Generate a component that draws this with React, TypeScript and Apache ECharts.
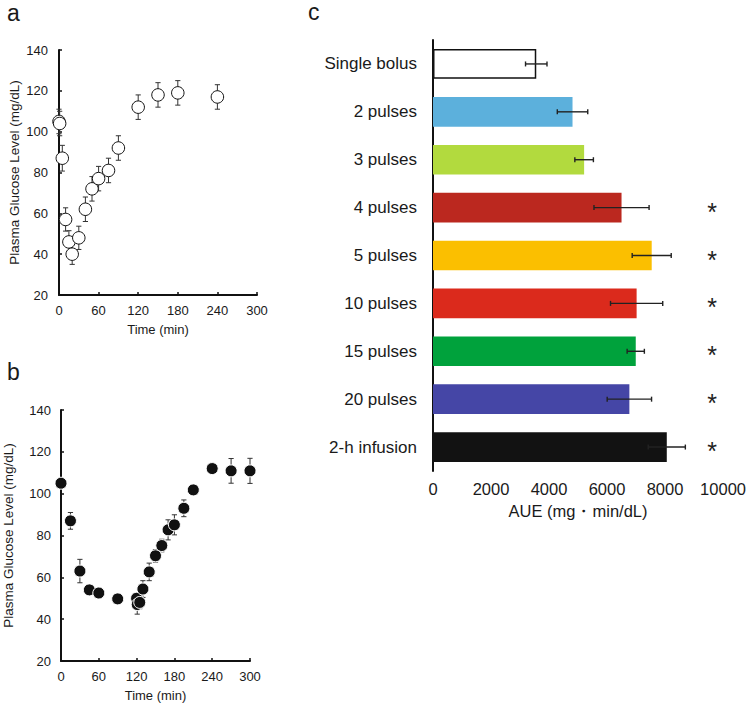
import React, { useEffect, useRef } from "react";
import * as echarts from "echarts";

// Panel a: single bolus (open circles)
const timeA = [0, 1, 5, 10, 15, 20, 30, 40, 50, 60, 75, 90, 120, 150, 180, 240];
const glucoseA = [105, 104, 87, 57, 46, 40, 48, 62, 72, 77, 81, 92, 112, 118, 119, 117];
const errA = [6, 6, 6.3, 5.7, 5.5, 5, 5.7, 6, 6, 6, 6, 6, 6, 6, 6, 6];

// Panel b: 2-h infusion (filled circles)
const timeB = [0, 15, 30, 45, 60, 90, 120, 121, 125, 130, 140, 150, 160, 170, 180, 195, 210, 240, 270, 300];
const glucoseB = [105, 87, 63, 54, 52.5, 49.7, 50, 47, 48, 54.4, 62.6, 70.3, 75.2, 82.7, 85.1, 93, 101.8, 112, 110.9, 110.9];
const errB = [2, 4, 5.6, 2, 2, 2, 2, 4.6, 3, 4, 4.2, 3, 3, 4.8, 4.8, 4, 2, 2, 5.9, 6];

// Panel c: AUE
const categories = [
  "Single bolus",
  "2 pulses",
  "3 pulses",
  "4 pulses",
  "5 pulses",
  "10 pulses",
  "15 pulses",
  "20 pulses",
  "2-h infusion",
];
const aue = [3560, 4810, 5210, 6500, 7540, 7020, 6990, 6770, 8060];
const aueErr = [370, 525, 320, 950, 673, 900, 297, 765, 640];
const significant = [false, false, false, true, true, true, true, true, true];
const barColors = [
  "#ffffff",
  "#5cb0dc",
  "#b2da3e",
  "#bb281f",
  "#fbbf00",
  "#db2a1c",
  "#00a23c",
  "#4546a6",
  "#121212",
];
const asteriskX = 9620;

const FONT = "'Liberation Sans', Arial, sans-serif";
const TXT = "#1a1a1a";

function vErrRender(params: any, api: any) {
  const x = api.value(0);
  const lo = api.value(1);
  const hi = api.value(2);
  const pHi = api.coord([x, hi]);
  const pLo = api.coord([x, lo]);
  const cap = 2.6;
  const style = { stroke: "#333", lineWidth: 1 };
  return {
    type: "group",
    children: [
      { type: "line", shape: { x1: pHi[0], y1: pHi[1], x2: pLo[0], y2: pLo[1] }, style },
      { type: "line", shape: { x1: pHi[0] - cap, y1: pHi[1], x2: pHi[0] + cap, y2: pHi[1] }, style },
      { type: "line", shape: { x1: pLo[0] - cap, y1: pLo[1], x2: pLo[0] + cap, y2: pLo[1] }, style },
    ],
  };
}

function hErrRender(params: any, api: any) {
  const lo = api.value(0);
  const hi = api.value(1);
  const c = api.value(2);
  const pLo = api.coord([lo, c]);
  const pHi = api.coord([hi, c]);
  const cap = 2.5;
  const style = { stroke: "#222", lineWidth: 1.4 };
  return {
    type: "group",
    children: [
      { type: "line", shape: { x1: pLo[0], y1: pLo[1], x2: pHi[0], y2: pHi[1] }, style },
      { type: "line", shape: { x1: pLo[0], y1: pLo[1] - cap, x2: pLo[0], y2: pLo[1] + cap }, style },
      { type: "line", shape: { x1: pHi[0], y1: pHi[1] - cap, x2: pHi[0], y2: pHi[1] + cap }, style },
    ],
  };
}

function starRender(params: any, api: any) {
  const p = api.coord([api.value(0), api.value(1)]);
  return {
    type: "text",
    x: p[0],
    y: p[1] + 4,
    style: {
      text: "*",
      fontSize: 25,
      fontFamily: FONT,
      fill: "#222",
      align: "center",
      verticalAlign: "middle",
    },
  };
}

function timeXAxis(gridIndex: number, labelMargin: number) {
  return {
    gridIndex,
    type: "value",
    min: 0,
    max: 300,
    interval: 60,
    name: "Time (min)",
    nameLocation: "middle",
    nameGap: 28,
    nameTextStyle: { fontSize: 13, fontFamily: FONT, color: TXT },
    axisLine: { onZero: false, lineStyle: { color: "#111", width: 2 } },
    axisTick: { inside: true, length: 3, lineStyle: { color: "#111", width: 1.5 } },
    axisLabel: { fontSize: 13, fontFamily: FONT, color: TXT, margin: labelMargin },
    splitLine: { show: false },
  };
}

function glucoseYAxis(gridIndex: number, nameGap: number, labelMargin: number) {
  return {
    gridIndex,
    type: "value",
    min: 20,
    max: 140,
    interval: 20,
    name: "Plasma Glucose Level (mg/dL)",
    nameLocation: "middle",
    nameGap,
    nameTextStyle: { fontSize: 13.5, fontFamily: FONT, color: TXT },
    axisLine: { onZero: false, lineStyle: { color: "#111", width: 2 } },
    axisTick: { inside: true, length: 3, lineStyle: { color: "#111", width: 1.5 } },
    axisLabel: { fontSize: 13, fontFamily: FONT, color: TXT, margin: labelMargin },
    splitLine: { show: false },
  };
}

export default function App() {
  const ref = useRef<HTMLDivElement>(null);

  useEffect(() => {
    document.body.style.margin = "0";
    if (!ref.current) return;
    const chart = echarts.init(ref.current, undefined, { renderer: "svg" });

    const dataA = timeA.map((t, i) => [t, glucoseA[i]]);
    const errDataA = timeA.map((t, i) => [t, glucoseA[i] - errA[i], glucoseA[i] + errA[i]]);
    const dataB = timeB.map((t, i) => [t, glucoseB[i]]);
    const errDataB = timeB.map((t, i) => [t, glucoseB[i] - errB[i], glucoseB[i] + errB[i]]);
    const errDataC = aue.map((v, i) => [v - aueErr[i], v + aueErr[i], i]);
    const starData = significant
      .map((s, i) => (s ? [asteriskX, i] : null))
      .filter((d) => d !== null);

    const option: any = {
      animation: false,
      backgroundColor: "#ffffff",
      textStyle: { fontFamily: FONT },
      graphic: [
        { type: "text", left: 7, top: 1, style: { text: "a", fontSize: 23, fontFamily: FONT, fill: TXT } },
        { type: "text", left: 7, top: 360, style: { text: "b", fontSize: 23, fontFamily: FONT, fill: TXT } },
        { type: "text", left: 308, top: 0, style: { text: "c", fontSize: 23, fontFamily: FONT, fill: TXT } },
      ],
      grid: [
        { left: 59, top: 50, width: 198, height: 245 },
        { left: 61, top: 410, width: 189, height: 251 },
        { left: 433, top: 40, width: 292, height: 431 },
      ],
      xAxis: [
        timeXAxis(0, 9),
        timeXAxis(1, 9),
        {
          gridIndex: 2,
          type: "value",
          min: 0,
          max: 10000,
          interval: 2000,
          name: "AUE (mg・min/dL)",
          nameLocation: "middle",
          nameGap: 31,
          nameTextStyle: { fontSize: 16.5, fontFamily: FONT, color: TXT },
          axisLine: { onZero: false, lineStyle: { color: "#111", width: 2 } },
          axisTick: { inside: true, length: 4, lineStyle: { color: "#111", width: 1.5 } },
          axisLabel: {
            fontSize: 16.5,
            fontFamily: FONT,
            color: TXT,
            margin: 9,
            formatter: (v: number) => String(v),
          },
          splitLine: { show: false },
        },
      ],
      yAxis: [
        glucoseYAxis(0, 38, 11),
        glucoseYAxis(1, 46, 10),
        {
          gridIndex: 2,
          type: "category",
          data: categories,
          inverse: true,
          axisLine: { lineStyle: { color: "#111", width: 2 } },
          axisTick: { show: false },
          axisLabel: { fontSize: 17, fontFamily: FONT, color: TXT, margin: 16 },
          splitLine: { show: false },
        },
      ],
      series: [
        {
          type: "custom",
          xAxisIndex: 0,
          yAxisIndex: 0,
          renderItem: vErrRender,
          data: errDataA,
          encode: { x: 0, y: [1, 2] },
          z: 1,
        },
        {
          type: "scatter",
          xAxisIndex: 0,
          yAxisIndex: 0,
          data: dataA,
          symbol: "circle",
          symbolSize: 12.5,
          itemStyle: { color: "#ffffff", borderColor: "#111", borderWidth: 1, opacity: 1 },
          z: 3,
        },
        {
          type: "custom",
          xAxisIndex: 1,
          yAxisIndex: 1,
          renderItem: vErrRender,
          data: errDataB,
          encode: { x: 0, y: [1, 2] },
          z: 1,
        },
        {
          type: "scatter",
          xAxisIndex: 1,
          yAxisIndex: 1,
          data: dataB,
          symbol: "circle",
          symbolSize: 12,
          itemStyle: { color: "#111", borderColor: "#ffffff", borderWidth: 1, opacity: 1 },
          z: 3,
        },
        {
          type: "bar",
          xAxisIndex: 2,
          yAxisIndex: 2,
          barWidth: "62%",
          data: aue.map((v, i) => ({
            value: v,
            itemStyle: {
              color: barColors[i],
              borderColor: i === 0 ? "#111" : barColors[i],
              borderWidth: i === 0 ? 1.5 : 0,
            },
          })),
          z: 2,
        },
        {
          type: "custom",
          xAxisIndex: 2,
          yAxisIndex: 2,
          renderItem: hErrRender,
          data: errDataC,
          encode: { x: [0, 1], y: 2 },
          z: 4,
        },
        {
          type: "custom",
          xAxisIndex: 2,
          yAxisIndex: 2,
          renderItem: starRender,
          data: starData,
          encode: { x: 0, y: 1 },
          z: 4,
        },
      ],
    };

    chart.setOption(option);
    return () => {
      chart.dispose();
    };
  }, []);

  return <div ref={ref} style={{ width: 749, height: 706 }} />;
}
